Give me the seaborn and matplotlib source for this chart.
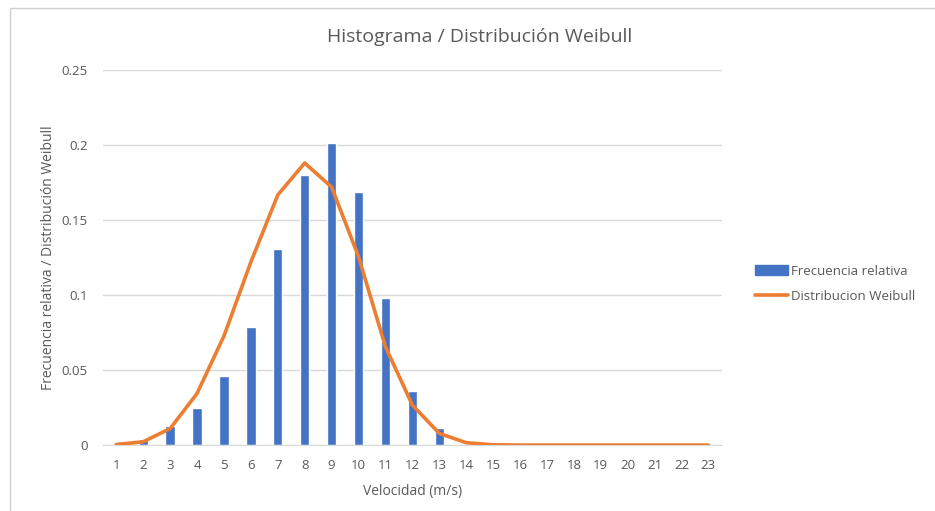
import numpy as np
import pandas as pd
import matplotlib
matplotlib.use("Agg")
import matplotlib.pyplot as plt
import seaborn as sns
from matplotlib.patches import Patch, Rectangle
from matplotlib.lines import Line2D

# Data
velocidad = list(range(1, 24))
frecuencia_relativa = [0.0, 0.004, 0.0127, 0.025, 0.0458, 0.0787, 0.1307, 0.180,
                       0.2016, 0.169, 0.098, 0.0362, 0.0116, 0.0, 0.0, 0.0, 0.0,
                       0.0, 0.0, 0.0, 0.0, 0.0, 0.0]
weibull = [0.0004, 0.0022, 0.011, 0.0344, 0.0727, 0.122, 0.1667, 0.188, 0.172,
           0.1256, 0.0656, 0.0267, 0.0078, 0.0016, 0.0002, 0.0, 0.0, 0.0, 0.0,
           0.0, 0.0, 0.0, 0.0]
y_ticks = [0, 0.05, 0.1, 0.15, 0.2, 0.25]

df = pd.DataFrame({"velocidad": velocidad,
                   "frecuencia": frecuencia_relativa,
                   "weibull": weibull})

sns.set_style("white")
plt.rcParams["font.family"] = ["Open Sans", "DejaVu Sans"]

blue = "#4472C4"
orange = "#ED7D31"
grey_text = "#595959"
grid_col = "#D9D9D9"

fig = plt.figure(figsize=(9.35, 5.11), dpi=100)
ax = fig.add_axes([0.110, 0.129, 0.662, 0.734])

sns.barplot(data=df, x="velocidad", y="frecuencia", native_scale=True,
            width=0.35, color=blue, saturation=1, ax=ax, zorder=2)
sns.lineplot(data=df, x="velocidad", y="weibull", color=orange, lw=2.6,
             ax=ax, zorder=3)

ax.set_xlim(0.5, 23.5)
ax.set_ylim(0, 0.25)
ax.set_xticks(velocidad)
ax.set_xticklabels([str(v) for v in velocidad])
ax.set_yticks(y_ticks)
ax.set_yticklabels([f"{t:g}" for t in y_ticks])
ax.tick_params(axis="both", length=0, colors=grey_text, labelsize=9.5)
ax.tick_params(axis="x", pad=10)
ax.tick_params(axis="y", pad=11)
ax.grid(axis="y", color=grid_col, lw=1, zorder=0)
for s in ["top", "right", "left"]:
    ax.spines[s].set_visible(False)
ax.spines["bottom"].set_color(grid_col)

ax.set_xlabel("Velocidad (m/s)", color=grey_text, fontsize=10, labelpad=9)
ax.set_ylabel("Frecuencia relativa / Distribución Weibull", color=grey_text,
              fontsize=10, labelpad=4)

fig.text(0.513, 0.927, "Histograma / Distribución Weibull", ha="center",
         va="center", fontsize=14, color=grey_text)

handles = [Patch(facecolor=blue, edgecolor=blue),
           Line2D([0], [0], color=orange, lw=2.6)]
fig.legend(handles, ["Frecuencia relativa", "Distribucion Weibull"],
           loc="center left", bbox_to_anchor=(0.795, 0.445), frameon=False,
           fontsize=9.5, labelcolor=grey_text, handlelength=2.5,
           handletextpad=0.2, labelspacing=0.9)

# outer chart frame
fig.patches.append(Rectangle((0.011, -0.01), 1.0, 0.995, transform=fig.transFigure,
                             fill=False, edgecolor="#D0D0D0", lw=1))

fig.savefig("out.png", dpi=100)
